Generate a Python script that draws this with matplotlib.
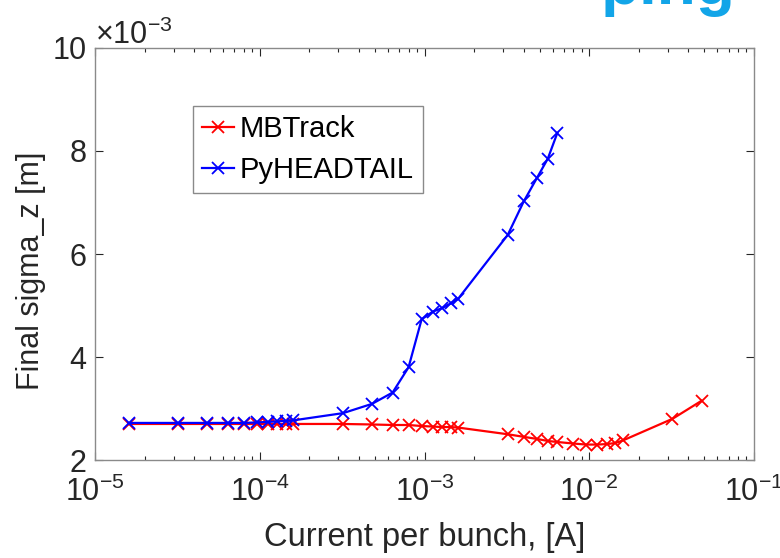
import numpy as np
import matplotlib
matplotlib.use("Agg")
import matplotlib.pyplot as plt
from matplotlib.ticker import ScalarFormatter, LogLocator, NullFormatter, FixedLocator

plt.rcParams['font.family'] = ['Liberation Sans', 'DejaVu Sans']
plt.rcParams['mathtext.fontset'] = 'custom'
plt.rcParams['mathtext.rm'] = 'Liberation Sans'
plt.rcParams['mathtext.it'] = 'Liberation Sans:italic'
plt.rcParams['mathtext.bf'] = 'Liberation Sans:bold'

## current per bunch [A]
x_mb = [1.6e-5, 3.2e-5, 4.8e-5, 6.4e-5, 8.0e-5, 9.6e-5, 1.12e-4, 1.28e-4, 1.44e-4, 1.6e-4,
        3.2e-4, 4.8e-4, 6.4e-4, 8.0e-4, 9.6e-4, 1.12e-3, 1.28e-3, 1.44e-3, 1.6e-3,
        3.2e-3, 4.0e-3, 4.8e-3, 5.6e-3, 6.4e-3, 8.0e-3, 9.6e-3, 1.12e-2, 1.28e-2,
        1.44e-2, 1.6e-2, 3.2e-2, 4.8e-2]
## final sigma_z [m]
y_mb = [2.70e-3, 2.70e-3, 2.70e-3, 2.70e-3, 2.70e-3, 2.70e-3, 2.70e-3, 2.70e-3, 2.70e-3, 2.70e-3,
        2.70e-3, 2.69e-3, 2.68e-3, 2.68e-3, 2.66e-3, 2.65e-3, 2.64e-3, 2.64e-3, 2.63e-3,
        2.50e-3, 2.45e-3, 2.41e-3, 2.37e-3, 2.35e-3, 2.32e-3, 2.30e-3, 2.30e-3, 2.31e-3,
        2.33e-3, 2.38e-3, 2.80e-3, 3.15e-3]

x_ph = [1.6e-5, 3.2e-5, 4.8e-5, 6.4e-5, 8.0e-5, 9.6e-5, 1.12e-4, 1.28e-4, 1.44e-4, 1.6e-4,
        3.2e-4, 4.8e-4, 6.4e-4, 8.0e-4, 9.6e-4, 1.12e-3, 1.28e-3, 1.44e-3, 1.6e-3,
        3.2e-3, 4.0e-3, 4.8e-3, 5.6e-3, 6.4e-3]
y_ph = [2.72e-3, 2.72e-3, 2.72e-3, 2.72e-3, 2.72e-3, 2.73e-3, 2.74e-3, 2.75e-3, 2.76e-3, 2.77e-3,
        2.91e-3, 3.09e-3, 3.31e-3, 3.80e-3, 4.73e-3, 4.88e-3, 4.95e-3, 5.04e-3, 5.13e-3,
        6.37e-3, 7.02e-3, 7.47e-3, 7.85e-3, 8.35e-3]

labels = ['MBTrack', 'PyHEADTAIL']
y_ticks = [2e-3, 4e-3, 6e-3, 8e-3, 10e-3]


class FixedOrderFormatter(ScalarFormatter):
    ## always show the y values as multiples of 10^-3, like matlab does
    def __init__(self, order):
        self.fixed_order = order
        ScalarFormatter.__init__(self, useMathText=True, useOffset=False)

    def _set_order_of_magnitude(self):
        self.orderOfMagnitude = self.fixed_order

    def _set_format(self):
        self.format = '%1.0f'


fig = plt.figure(figsize=(7.8, 5.58), dpi=100)
ax = fig.add_axes([0.1218, 0.1756, 0.8449, 0.7384])

ax.plot(x_mb, y_mb, color='#ff0000', marker='x', ms=9, mew=1.3, lw=1.6, label=labels[0])
ax.plot(x_ph, y_ph, color='#0000ff', marker='x', ms=9, mew=1.3, lw=1.6, label=labels[1])

ax.set_xscale('log')
ax.set_xlim(1e-5, 1e-1)
ax.set_ylim(2e-3, 10e-3)
ax.yaxis.set_major_locator(FixedLocator(y_ticks))
ax.yaxis.set_major_formatter(FixedOrderFormatter(-3))
ax.xaxis.set_major_locator(LogLocator(base=10, numticks=10))
ax.xaxis.set_minor_locator(LogLocator(base=10, subs=np.arange(2, 10), numticks=20))
ax.xaxis.set_minor_formatter(NullFormatter())

ax.tick_params(which='both', direction='in', top=True, right=True, colors='#262626',
               labelsize=22, width=0.8)
ax.tick_params(which='major', length=6)
ax.tick_params(which='minor', length=3)
ax.tick_params(axis='x', pad=12)
ax.tick_params(axis='y', pad=6)
for sp in ax.spines.values():
    sp.set_color('#8a8a8a')
    sp.set_linewidth(1.0)
ax.yaxis.get_offset_text().set_fontsize(22)
ax.yaxis.get_offset_text().set_color('#262626')

ax.set_xlabel('Current per bunch, [A]', fontsize=23.5, color='#262626', labelpad=10)
ax.set_ylabel('Final sigma_z [m]', fontsize=22, color='#262626')
ax.yaxis.set_label_coords(-0.075, 0.46)

leg = ax.legend(loc='upper left', bbox_to_anchor=(0.149, 0.859), borderaxespad=0,
                fontsize=21, fancybox=False, handlelength=1.1, handletextpad=0.2,
                borderpad=0.3, labelspacing=0.45, framealpha=1)
leg.get_frame().set_edgecolor('#8a8a8a')
leg.get_frame().set_linewidth(1.0)

# slide heading, cut off by the top edge as in the screenshot
fig.text(0.77, 0.993, 'ping', color='#12a5e8', fontsize=46, fontweight='bold',
         ha='left', va='baseline')

fig.savefig('out.png', dpi=100)
